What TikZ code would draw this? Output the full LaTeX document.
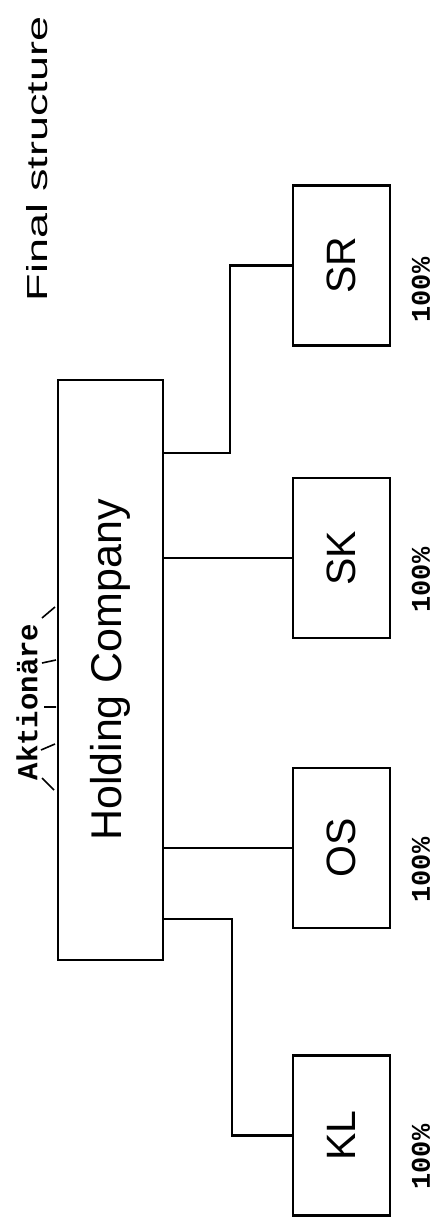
\documentclass[tikz,border=0pt]{standalone}
\usepackage{fontspec}
\setmainfont{Liberation Sans}
\setmonofont{Liberation Mono}
\begin{document}
\begin{tikzpicture}[x=1pt,y=-1pt,line width=2.4pt,every node/.style={rotate=90,font=\fontsize{41}{41}\selectfont},
  co/.style={draw,minimum width=160pt,minimum height=97pt,inner sep=0pt},
  pct/.style={font=\ttfamily\bfseries\fontsize{27}{27}\selectfont}]
\useasboundingbox (0,0) rectangle (447,1226);
\node (t) at (37,159) {\fontsize{29}{29}\selectfont\scalebox{1.55}[1]{Final structure}};
\node[draw,minimum width=580pt,minimum height=105pt,inner sep=0pt,font=\fontsize{43}{43}\selectfont] (h) at (110.5,670) {Holding Company};
\node[font=\ttfamily\bfseries\fontsize{29}{29}\selectfont,inner sep=0pt] (ak) at (27,702) {Aktionäre};
\node[co] (sr) at (341.5,265.5) {SR};\node[co] (sk) at (341.5,558) {SK};
\node[co] (os) at (341.5,848) {OS};\node[co] (kl) at (341.5,1135.5) {KL};
\node[pct] (p1) at (421,290) {100\%};\node[pct] (p2) at (421,580) {100\%};
\node[pct] (p3) at (421,870) {100\%};\node[pct] (p4) at (421,1157) {100\%};
% rotated nodes: north is the left side, south the right side
\coordinate (j1) at (163,453);\coordinate (k1) at (230,453);
\coordinate (j2) at (163,919);\coordinate (k2) at (232,919);
\draw (j1)--(k1) |- (sr.north) (h.south|-sk)--(sk.north) (h.south|-os)--(os.north) (j2)--(k2) |- (kl.north);
% marks from the shareholders to the holding
\draw[line width=1.6pt] (42,618)--(55,607) (42,663)--(56,660) (44,707)--(56,707) (41,750)--(55,744) (42,778)--(54,790);
\end{tikzpicture}
\end{document}
